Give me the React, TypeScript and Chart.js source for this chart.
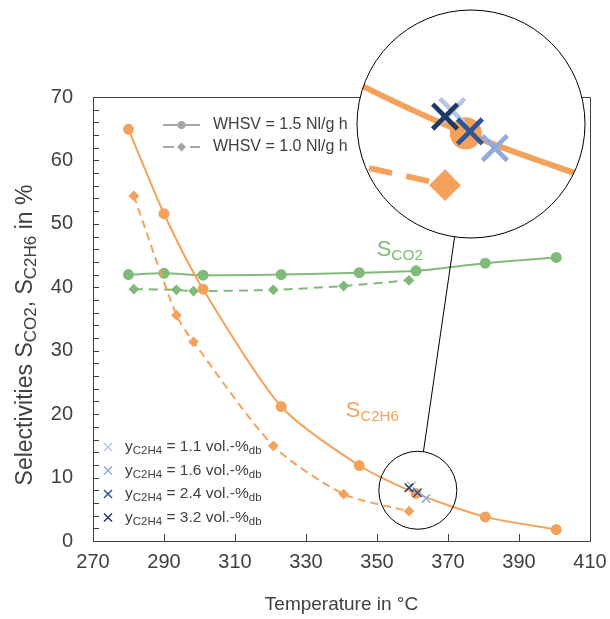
import React, { useEffect, useRef } from 'react';
import { Chart, registerables } from 'chart.js';

Chart.register(...registerables);

// ---------- data ----------
const tempSolid = [280, 290, 301, 323, 345, 361, 380.5, 400.5];
const c2h6Solid = [64.9, 51.6, 39.7, 21.2, 11.9, 7.5, 3.8, 1.8];
const co2Solid = [42.0, 42.2, 41.9, 42.0, 42.3, 42.6, 43.8, 44.7];

const tempDashed = [281.5, 293.5, 298.3, 320.8, 340.6, 359];
const c2h6Dashed = [54.4, 35.6, 31.4, 15.0, 7.4, 4.7];
const co2Dashed = [39.7, 39.6, 39.4, 39.6, 40.2, 41.1];

const feedLabels = ['1.1', '1.6', '2.4', '3.2'];
const feedTemps = [359.7, 363.8, 361.4, 359.0];
const feedC2H6 = [8.7, 6.7, 7.6, 8.4];
const feedColors = ['#b4c7e7', '#8faadc', '#2f5597', '#1f3864'];

const whsvLabels = ['WHSV = 1.5 Nl/g h', 'WHSV = 1.0 Nl/g h'];
const xTitle = 'Temperature in °C';
const zoomCenter = [361.5, 8.0];

const ORANGE = '#f4a25b';
const GREEN = '#80ba79';
const GREY = '#a6a6a6';
const TEXT = '#404040';
const FONT = '"Liberation Sans", Arial, sans-serif';

type Part = [string, boolean];

function measureParts(ctx: CanvasRenderingContext2D, parts: Part[], size: number, sub: number) {
  let w = 0;
  for (const [t, s] of parts) {
    ctx.font = `${s ? sub : size}px ${FONT}`;
    w += ctx.measureText(t).width;
  }
  return w;
}

function drawParts(ctx: CanvasRenderingContext2D, x: number, y: number, parts: Part[], size: number, sub: number, shift: number) {
  let cx = x;
  for (const [t, s] of parts) {
    ctx.font = `${s ? sub : size}px ${FONT}`;
    ctx.fillText(t, cx, y + (s ? shift : 0));
    cx += ctx.measureText(t).width;
  }
}

const decorPlugin = {
  id: 'decor',
  beforeDatasetsDraw(chart: any) {
    const ctx: CanvasRenderingContext2D = chart.ctx;
    const a = chart.chartArea;
    const xs = chart.scales.x;
    const ys = chart.scales.y;
    ctx.save();
    ctx.strokeStyle = TEXT;
    ctx.lineWidth = 1;
    ctx.beginPath();
    ctx.rect(Math.round(a.left) + 0.5, Math.round(a.top) + 0.5, Math.round(a.right - a.left), Math.round(a.bottom - a.top));
    ctx.stroke();
    ctx.beginPath();
    for (let v = 0; v <= 70; v += 2) {
      const py = Math.round(ys.getPixelForValue(v)) + 0.5;
      ctx.moveTo(a.left, py);
      ctx.lineTo(a.left + 6, py);
    }
    for (let v = 270; v <= 410; v += 20) {
      const px = Math.round(xs.getPixelForValue(v)) + 0.5;
      ctx.moveTo(px, a.bottom);
      ctx.lineTo(px, a.bottom - 7);
    }
    ctx.stroke();
    ctx.restore();
  },
  afterDraw(chart: any) {
    const ctx: CanvasRenderingContext2D = chart.ctx;
    const a = chart.chartArea;
    const xs = chart.scales.x;
    const ys = chart.scales.y;

    // ---- magnifier ----
    const sx = xs.getPixelForValue(zoomCenter[0]);
    const sy = ys.getPixelForValue(zoomCenter[1]);
    const r = 39;
    const R = 114;
    const m = R / r;
    const bx = a.right - 119;
    const by = a.top + 27;
    const dx = bx - sx, dy = by - sy;
    const d = Math.hypot(dx, dy);
    const ux = dx / d, uy = dy / d;
    ctx.save();
    ctx.strokeStyle = '#000';
    ctx.lineWidth = 1;
    ctx.beginPath();
    ctx.moveTo(sx + ux * r, sy + uy * r);
    ctx.lineTo(bx - ux * R, by - uy * R);
    ctx.stroke();
    ctx.beginPath();
    ctx.arc(sx, sy, r, 0, Math.PI * 2);
    ctx.stroke();
    ctx.restore();

    ctx.save();
    ctx.beginPath();
    ctx.arc(bx, by, R, 0, Math.PI * 2);
    ctx.fillStyle = '#fff';
    ctx.fill();
    ctx.clip();
    ctx.translate(bx, by);
    ctx.scale(m, m);
    ctx.translate(-sx, -sy);
    const metas = chart.getSortedVisibleDatasetMetas();
    for (let i = metas.length - 1; i >= 0; i--) {
      metas[i].controller.draw();
    }
    ctx.restore();
    ctx.save();
    ctx.strokeStyle = '#000';
    ctx.lineWidth = 1;
    ctx.beginPath();
    ctx.arc(bx, by, R, 0, Math.PI * 2);
    ctx.stroke();
    ctx.restore();

    // ---- WHSV legend ----
    ctx.save();
    const lx = a.left + 70;
    const ly = a.top + 28;
    ctx.strokeStyle = GREY;
    ctx.fillStyle = GREY;
    ctx.lineWidth = 2;
    ctx.beginPath();
    ctx.moveTo(lx, ly);
    ctx.lineTo(lx + 37, ly);
    ctx.stroke();
    ctx.beginPath();
    ctx.arc(lx + 18.5, ly, 4, 0, Math.PI * 2);
    ctx.fill();
    const ly2 = ly + 22;
    ctx.beginPath();
    ctx.moveTo(lx, ly2);
    ctx.lineTo(lx + 11, ly2);
    ctx.moveTo(lx + 27, ly2);
    ctx.lineTo(lx + 37, ly2);
    ctx.stroke();
    ctx.beginPath();
    ctx.moveTo(lx + 18.5 - 4.5, ly2);
    ctx.lineTo(lx + 18.5, ly2 - 4.5);
    ctx.lineTo(lx + 18.5 + 4.5, ly2);
    ctx.lineTo(lx + 18.5, ly2 + 4.5);
    ctx.closePath();
    ctx.fill();
    ctx.fillStyle = TEXT;
    ctx.textBaseline = 'middle';
    ctx.textAlign = 'left';
    ctx.font = `16px ${FONT}`;
    ctx.fillText(whsvLabels[0], lx + 50, ly);
    ctx.fillText(whsvLabels[1], lx + 50, ly2);
    ctx.restore();

    // ---- feed legend ----
    ctx.save();
    const fx = a.left + 15;
    const fy0 = a.top + 350;
    for (let i = 0; i < feedLabels.length; i++) {
      const fy = fy0 + i * 23.5;
      ctx.strokeStyle = feedColors[i];
      ctx.lineWidth = 1.5;
      ctx.beginPath();
      ctx.moveTo(fx - 4, fy - 4);
      ctx.lineTo(fx + 4, fy + 4);
      ctx.moveTo(fx + 4, fy - 4);
      ctx.lineTo(fx - 4, fy + 4);
      ctx.stroke();
      ctx.fillStyle = TEXT;
      ctx.textBaseline = 'middle';
      ctx.textAlign = 'left';
      drawParts(ctx, fx + 17, fy, [['y', false], ['C2H4', true], [` = ${feedLabels[i]} vol.-%`, false], ['db', true]], 15.5, 11.5, 4);
    }
    ctx.restore();

    // ---- series labels ----
    ctx.save();
    ctx.textBaseline = 'alphabetic';
    ctx.textAlign = 'left';
    ctx.fillStyle = GREEN;
    drawParts(ctx, xs.getPixelForValue(349.9), ys.getPixelForValue(44.9), [['S', false], ['CO2', true]], 22, 15.5, 4);
    ctx.fillStyle = ORANGE;
    drawParts(ctx, xs.getPixelForValue(341.2), ys.getPixelForValue(19.6), [['S', false], ['C2H6', true]], 22, 15, 4);
    ctx.restore();

    // ---- axis titles ----
    ctx.save();
    ctx.fillStyle = TEXT;
    ctx.textBaseline = 'middle';
    ctx.textAlign = 'center';
    ctx.font = `19px ${FONT}`;
    ctx.fillText(xTitle, (a.left + a.right) / 2, a.bottom + 64);
    ctx.textAlign = 'left';
    const yParts: Part[] = [['Selectivities S', false], ['CO2', true], [', S', false], ['C2H6', true], [' in %', false]];
    const tw = measureParts(ctx, yParts, 23, 17);
    ctx.translate(26, (a.top + a.bottom) / 2 + 16);
    ctx.rotate(-Math.PI / 2);
    drawParts(ctx, -tw / 2, 0, yParts, 23, 17, 5);
    ctx.restore();
  },
};

export default function App() {
  const ref = useRef<HTMLCanvasElement | null>(null);
  useEffect(() => {
    document.body.style.margin = '0';
    if (!ref.current) return;
    const pts = (xs: number[], ys: number[]) => xs.map((x, i) => ({ x, y: ys[i] }));
    const feedSets = [3, 2, 1, 0].map((i) => ({
      label: `y = ${feedLabels[i]}`,
      data: [{ x: feedTemps[i], y: feedC2H6[i] }],
      showLine: false,
      pointStyle: 'crossRot',
      pointRadius: 6,
      pointBorderWidth: 1.6,
      borderColor: feedColors[i],
      backgroundColor: feedColors[i],
    }));
    const chart = new Chart(ref.current, {
      type: 'scatter',
      data: {
        datasets: [
          ...feedSets,
          {
            label: 'S C2H6 1.5',
            data: pts(tempSolid, c2h6Solid),
            showLine: true,
            borderColor: ORANGE,
            backgroundColor: ORANGE,
            borderWidth: 2,
            tension: 0.25,
            pointRadius: 4.5,
            pointStyle: 'circle',
          },
          {
            label: 'S C2H6 1.0',
            data: pts(tempDashed, c2h6Dashed),
            showLine: true,
            borderColor: ORANGE,
            backgroundColor: ORANGE,
            borderWidth: 2,
            borderDash: [8, 5],
            tension: 0.25,
            pointRadius: 4,
            pointStyle: 'rectRot',
          },
          {
            label: 'S CO2 1.5',
            data: pts(tempSolid, co2Solid),
            showLine: true,
            borderColor: GREEN,
            backgroundColor: GREEN,
            borderWidth: 2,
            tension: 0.25,
            pointRadius: 4.5,
            pointStyle: 'circle',
          },
          {
            label: 'S CO2 1.0',
            data: pts(tempDashed, co2Dashed),
            showLine: true,
            borderColor: GREEN,
            backgroundColor: GREEN,
            borderWidth: 2,
            borderDash: [9, 6],
            tension: 0.25,
            pointRadius: 4,
            pointStyle: 'rectRot',
          },
        ],
      },
      options: {
        responsive: false,
        animation: false,
        events: [],
        layout: { padding: { top: 97, right: 20, bottom: 0, left: 0 } },
        plugins: { legend: { display: false }, tooltip: { enabled: false } },
        scales: {
          x: {
            type: 'linear',
            min: 270,
            max: 410,
            ticks: { stepSize: 20, color: TEXT, font: { family: FONT, size: 20 }, padding: 9 },
            grid: { display: false, drawTicks: false },
            border: { display: false },
            afterFit: (s: any) => { s.height = 78; s.paddingLeft = 0; s.paddingRight = 0; },
          },
          y: {
            type: 'linear',
            min: 0,
            max: 70,
            ticks: { stepSize: 10, color: TEXT, font: { family: FONT, size: 20 }, padding: 20 },
            grid: { display: false, drawTicks: false },
            border: { display: false },
            afterFit: (s: any) => { s.width = 93; s.paddingTop = 0; s.paddingBottom = 0; },
          },
        },
      } as any,
      plugins: [decorPlugin],
    });
    return () => chart.destroy();
  }, []);
  return (
    <div style={{ width: 610, height: 619 }}>
      <canvas ref={ref} width={610} height={619} />
    </div>
  );
}
